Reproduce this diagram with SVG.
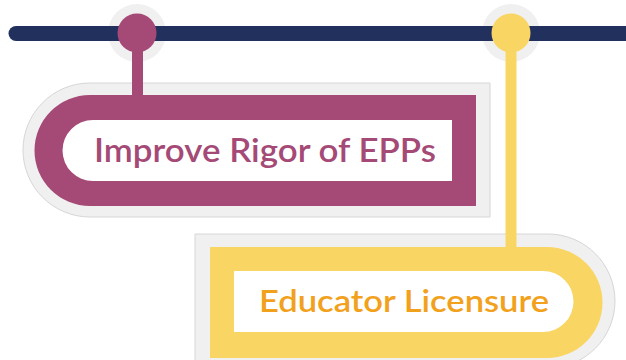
<svg xmlns="http://www.w3.org/2000/svg" width="626" height="360" viewBox="0 0 626 360">
<style>
.halo{fill:#f0f0f0}
.plate{fill:#f0f0f0;stroke:#d6d6d6;stroke-width:1}
.inner{fill:#ffffff}
.lbl{font-family:Lato,"Open Sans","Liberation Sans",sans-serif;font-weight:600;}
.mag{fill:#a54a76}
.yel{fill:#f9d564}
</style>
<rect width="626" height="360" fill="#ffffff"/>
<g id="connectors">
<circle class="halo" cx="137" cy="33" r="29"/>
<circle class="halo" cx="511" cy="33" r="29"/>
<line x1="16" y1="33.5" x2="640" y2="33.5" stroke="#22305e" stroke-width="15" stroke-linecap="round"/>
</g>
<g id="node-epp">
<path class="plate" d="M490 83 H90 A67 67 0 0 0 90 217 H490 Z"/>
<path class="mag" d="M476 95 H90 A55.5 55.5 0 0 0 90 206 H476 Z"/>
<path class="inner" d="M452 120 H93 A30.5 30.5 0 0 0 93 181 H452 Z"/>
<rect class="mag" x="132" y="33" width="11" height="64"/>
<circle class="mag" cx="137" cy="33" r="19.5"/>
<text class="lbl" x="94" y="162" font-size="32" fill="#a54a76" textLength="342" lengthAdjust="spacingAndGlyphs">Improve Rigor of EPPs</text>
</g>
<g id="node-licensure">
<path class="plate" d="M195 234 H548 A67 67 0 0 1 548 368 H195 Z"/>
<path class="yel" d="M210 247 H547 A55.5 55.5 0 0 1 547 358 H210 Z"/>
<path class="inner" d="M234 271 H543 A30.5 30.5 0 0 1 543 332 H234 Z"/>
<rect class="yel" x="505.5" y="33" width="11" height="216"/>
<circle class="yel" cx="511" cy="33" r="19.5"/>
<text class="lbl" x="259" y="312" font-size="30" fill="#f2a11c" textLength="290" lengthAdjust="spacingAndGlyphs">Educator Licensure</text>
</g>
</svg>
